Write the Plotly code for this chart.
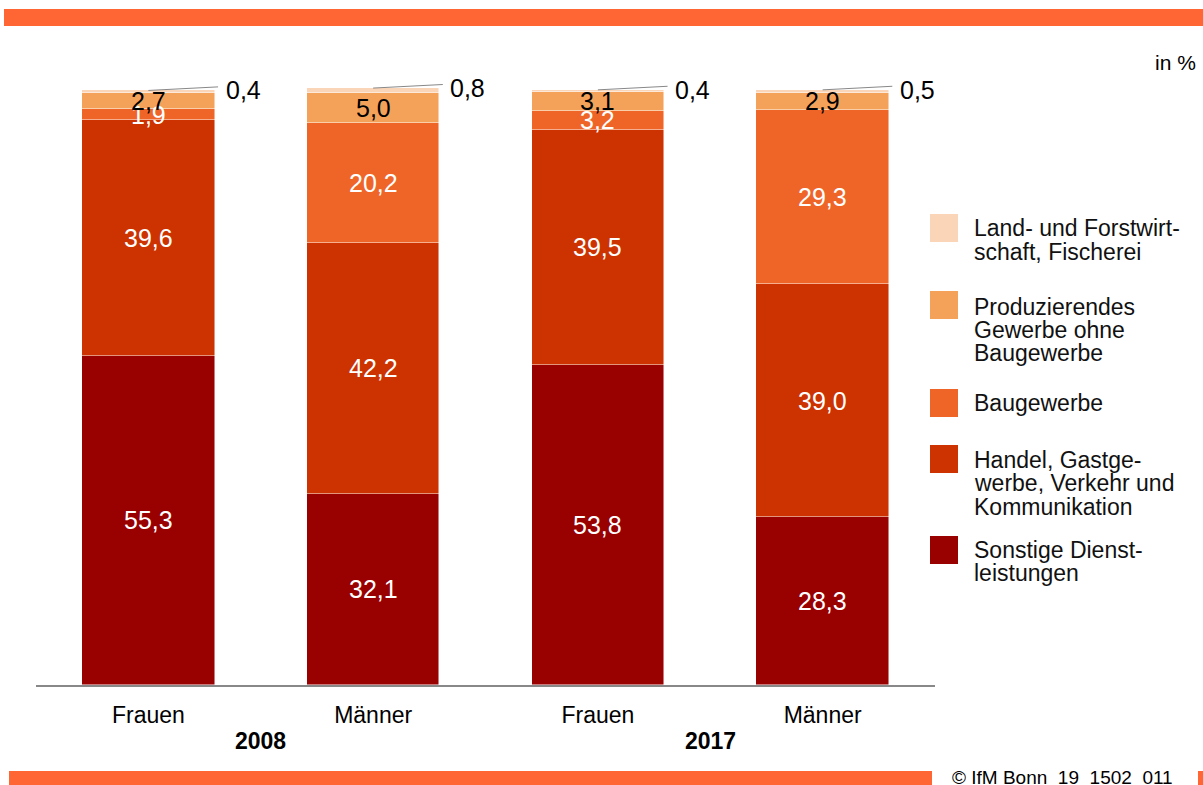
import plotly.graph_objects as go

# ---- data ----
bar_labels = ["Frauen", "Männer", "Frauen", "Männer"]
years = ["2008", "2017"]
series_names = [
    "Sonstige Dienst-<br>leistungen",
    "Handel, Gastge-<br>werbe, Verkehr und<br>Kommunikation",
    "Baugewerbe",
    "Produzierendes<br>Gewerbe ohne<br>Baugewerbe",
    "Land- und Forstwirt-<br>schaft, Fischerei",
]
sonstige = [55.3, 32.1, 53.8, 28.3]
handel = [39.6, 42.2, 39.5, 39.0]
bau = [1.9, 20.2, 3.2, 29.3]
prod = [2.7, 5.0, 3.1, 2.9]
land = [0.4, 0.8, 0.4, 0.5]
series_values = [sonstige, handel, bau, prod, land]
colors = ["#990000", "#CC3300", "#EF6528", "#F4A25A", "#FAD5B8"]
label_colors = ["white", "white", "white", "black", "black"]

FONT = "Liberation Sans, Arial, sans-serif"
W, H = 1203, 785
L, R, T, B = 36, 268, 72, 100
PW, PH = W - L - R, H - T - B


def px(x):
    return (x - L) / PW


def py(y):
    return (H - B - y) / PH


def fmt(v):
    return f"{v:.1f}".replace(".", ",")


fig = go.Figure()
xs = list(range(len(bar_labels)))
for name, vals, col in zip(series_names, series_values, colors):
    fig.add_trace(go.Bar(
        x=xs, y=vals, name=name, marker_color=col,
        marker_line_color="rgba(255,255,255,0.6)", marker_line_width=0.8,
        width=0.59, showlegend=False, hoverinfo="skip"))

annotations = []
shapes = []
# segment labels
for i in xs:
    base = 0
    for s, vals in enumerate(series_values):
        v = vals[i]
        if s < 4:
            annotations.append(dict(
                x=i, y=base + v / 2, xref="x", yref="y", text=fmt(v),
                showarrow=False, font=dict(family=FONT, size=25, color=label_colors[s])))
        else:
            top = base + v
            shapes.append(dict(type="line", xref="x", yref="y",
                               x0=i, y0=top, x1=i + 0.31, y1=top + 0.6,
                               line=dict(color="#888888", width=1)))
            annotations.append(dict(
                x=i + 0.335, y=top, xref="x", yref="y", text=fmt(v),
                xanchor="left", yanchor="middle", showarrow=False,
                font=dict(family=FONT, size=25, color="black")))
        base += v

# year labels (centred between each pair of bars)
n = len(bar_labels)
for k, yr in enumerate(years):
    annotations.append(dict(
        x=(2 * k + 1) / n, y=py(741), xref="paper", yref="paper", text=f"<b>{yr}</b>",
        xanchor="center", yanchor="middle",
        showarrow=False, font=dict(family=FONT, size=23, color="black")))

# unit
annotations.append(dict(x=px(1198), y=py(49), xref="paper", yref="paper", text="in %",
                        xanchor="right", showarrow=False,
                        font=dict(family=FONT, size=21, color="black")))

# custom legend
legend_items = [
    (4, 214, ["Land- und Forstwirt-", "schaft, Fischerei"], [228, 252]),
    (3, 291, ["Produzierendes", "Gewerbe ohne", "Baugewerbe"], [307, 330, 353]),
    (2, 389, ["Baugewerbe"], [403]),
    (1, 445, ["Handel, Gastge-", "werbe, Verkehr und", "Kommunikation"], [460, 483, 507]),
    (0, 536, ["Sonstige Dienst-", "leistungen"], [550, 573]),
]
for s, ytop, lines, ys in legend_items:
    shapes.append(dict(type="rect", xref="paper", yref="paper",
                       x0=px(930), x1=px(958), y0=py(ytop), y1=py(ytop + 28),
                       fillcolor=colors[s], line=dict(width=0)))
    for txt, yy in zip(lines, ys):
        annotations.append(dict(x=px(972), y=py(yy), xref="paper", yref="paper",
                                text=txt, xanchor="left", yanchor="middle",
                                showarrow=False,
                                font=dict(family=FONT, size=23, color="#111111")))

# decorative bands
shapes.append(dict(type="rect", xref="paper", yref="paper",
                   x0=px(4), x1=px(1203), y0=py(9), y1=py(26),
                   fillcolor="#FF6633", line=dict(width=0)))
shapes.append(dict(type="rect", xref="paper", yref="paper",
                   x0=px(9), x1=px(932), y0=py(771), y1=py(786),
                   fillcolor="#FF6633", line=dict(width=0)))
shapes.append(dict(type="rect", xref="paper", yref="paper",
                   x0=px(1198), x1=px(1204), y0=py(771), y1=py(786),
                   fillcolor="#FF6633", line=dict(width=0)))
annotations.append(dict(x=px(950), y=py(777), xref="paper", yref="paper",
                        text="© IfM Bonn  19  1502  011", xanchor="left", yanchor="middle",
                        showarrow=False, font=dict(family=FONT, size=19, color="black")))

fig.update_layout(
    width=W, height=H,
    margin=dict(l=L, r=R, t=T, b=B, autoexpand=False),
    barmode="stack", bargap=0,
    plot_bgcolor="white", paper_bgcolor="white",
    annotations=annotations, shapes=shapes,
    xaxis=dict(range=[-0.5, 3.5], tickvals=xs, ticktext=bar_labels,
               showline=True, linecolor="#888888", linewidth=2,
               showgrid=False, zeroline=False, ticks="", ticklabelstandoff=8,
               tickfont=dict(family=FONT, size=23, color="black")),
    yaxis=dict(range=[0, 103], visible=False, showgrid=False, zeroline=False),
    font=dict(family=FONT),
)

fig.write_html("out.html", config={"displayModeBar": False},
               post_script="document.body.style.margin='0';document.body.style.overflow='hidden';")
